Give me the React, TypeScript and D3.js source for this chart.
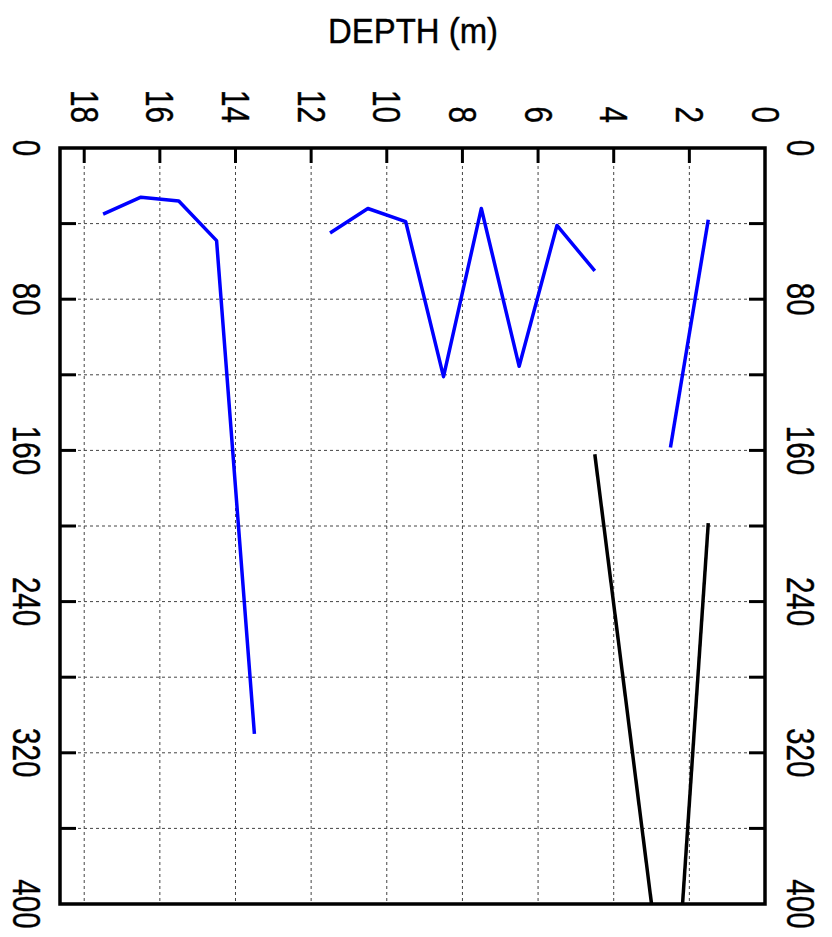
import React from "react";
import * as d3 from "d3";

const depthTicks = [0, 2, 4, 6, 8, 10, 12, 14, 16, 18];
const distTicks = [0, 80, 160, 240, 320, 400];
const distGrid = [40, 80, 120, 160, 200, 240, 280, 320, 360];

// [depth, distance]
const blueDeep: [number, number][] = [
  [17.5, 35], [16.5, 26], [15.5, 28], [14.5, 49], [13.5, 310],
];
const blueMid: [number, number][] = [
  [11.5, 45], [10.5, 32], [9.5, 39], [8.5, 121], [7.5, 32], [6.5, 115.5], [5.5, 41], [4.5, 65],
];
const blueShallow: [number, number][] = [
  [1.5, 38], [2.5, 158.5],
];
const blackA: [number, number][] = [
  [4.5, 162], [3.0, 400],
];
const blackB: [number, number][] = [
  [1.5, 198.5], [2.18, 400],
];

const W = 832, H = 937;
const L = 60, R = 765, T = 148, B = 904;

export default function App() {
  const x = d3.scaleLinear().domain([18.64, 0]).range([L, R]);
  const y = d3.scaleLinear().domain([0, 400]).range([T, B]);
  const line = d3.line<[number, number]>().x(d => x(d[0])).y(d => y(d[1]));
  const font = "'Liberation Sans', Arial, sans-serif";
  const lblScale = "scale(0.78,1)";
  return (
    <svg width={W} height={H} style={{ position: "absolute", left: 0, top: 0, background: "#fff" }}>
      <rect x={0} y={0} width={W} height={H} fill="#fff" />
      <text x={413} y={43.3} textAnchor="middle" fontFamily={font} fontSize={35}
        textLength={170} lengthAdjust="spacingAndGlyphs" fill="#000" stroke="#000" strokeWidth={0.4}>DEPTH (m)</text>
      {/* grid */}
      {depthTicks.filter(d => d > 0).map(d => (
        <line key={"vg" + d} x1={x(d)} x2={x(d)} y1={T} y2={B} stroke="#444" strokeWidth={1} strokeDasharray="3,3" />
      ))}
      {distGrid.map(v => (
        <line key={"hg" + v} x1={L} x2={R} y1={y(v)} y2={y(v)} stroke="#444" strokeWidth={1} strokeDasharray="3,3" />
      ))}
      {/* ticks */}
      {depthTicks.filter(d => d > 0).map(d => (
        <line key={"tt" + d} x1={x(d)} x2={x(d)} y1={T} y2={T + 15} stroke="#000" strokeWidth={3} />
      ))}
      {distGrid.map(v => (
        <g key={"st" + v}>
          <line x1={L} x2={L + 16} y1={y(v)} y2={y(v)} stroke="#000" strokeWidth={3} />
          <line x1={R - 16} x2={R} y1={y(v)} y2={y(v)} stroke="#000" strokeWidth={3} />
        </g>
      ))}
      {/* data */}
      {[blueDeep, blueMid, blueShallow].map((s, i) => (
        <path key={"b" + i} d={line(s) || ""} fill="none" stroke="#0000ff" strokeWidth={3.5} strokeLinejoin="round" />
      ))}
      {[blackA, blackB].map((s, i) => (
        <path key={"k" + i} d={line(s) || ""} fill="none" stroke="#000" strokeWidth={3.5} />
      ))}
      {/* border */}
      <rect x={L} y={T} width={R - L} height={B - T} fill="none" stroke="#000" strokeWidth={3.5} />
      {/* labels */}
      {depthTicks.map(d => (
        <text key={"tl" + d} transform={`translate(${x(d) - 13.5},123) rotate(90) ${lblScale}`}
          textAnchor="end" fontFamily={font} fontSize={38} fill="#000" stroke="#000" strokeWidth={0.4}>{d}</text>
      ))}
      {distTicks.map(v => (
        <g key={"dl" + v}>
          <text transform={`translate(13,${y(v)}) rotate(90) ${lblScale}`}
            textAnchor="middle" fontFamily={font} fontSize={38} fill="#000" stroke="#000" strokeWidth={0.4}>{v}</text>
          <text transform={`translate(787,${y(v)}) rotate(90) ${lblScale}`}
            textAnchor="middle" fontFamily={font} fontSize={38} fill="#000" stroke="#000" strokeWidth={0.4}>{v}</text>
        </g>
      ))}
    </svg>
  );
}
